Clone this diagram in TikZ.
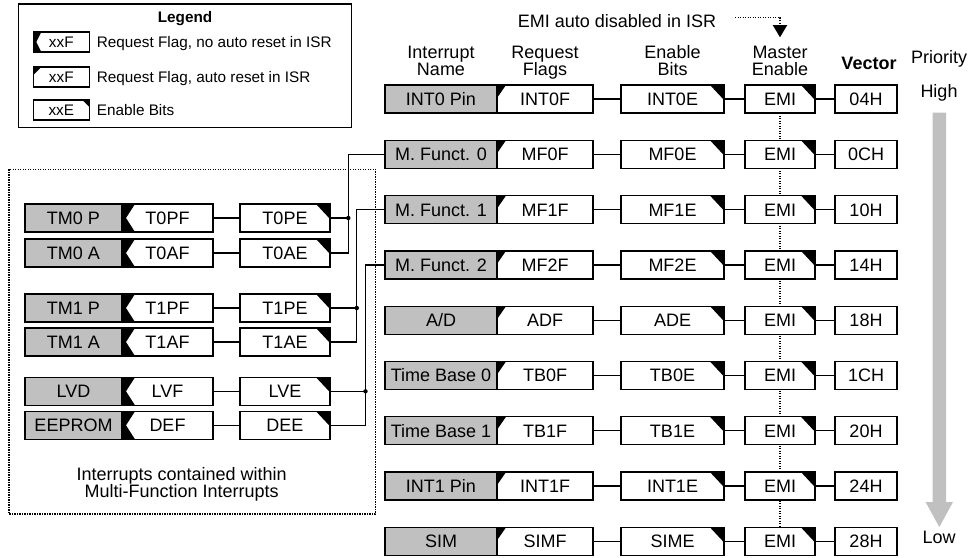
\documentclass[tikz,border=0pt]{standalone}
\usepackage{fontspec}
\setmainfont{Liberation Sans}
\usetikzlibrary{backgrounds}
\definecolor{boxgray}{RGB}{192,192,192}
\begin{document}
\begin{tikzpicture}[x=1pt,y=-1pt,
  mf/.style={font=\fontsize{18}{17}\selectfont},
  lgf/.style={font=\fontsize{15.3}{17}\selectfont},
  bx/.style={draw, line width=1.3pt, rectangle, inner sep=0pt, outer sep=0pt, minimum height=28pt,
             text height=12.9pt, text depth=0pt, mf},
  namebox/.style={bx, fill=boxgray},
  whitebox/.style={bx, fill=white},
  lbx/.style={draw, line width=1.2pt, rectangle, inner sep=0pt, outer sep=0pt, minimum height=20pt, minimum width=56pt,
             text height=11pt, text depth=0pt, fill=white, lgf},
  ltxt/.style={inner sep=0pt, text height=11pt, text depth=0pt, lgf, anchor=west},
  hdr/.style={inner sep=0pt, text height=12.9pt, text depth=0pt, mf},
  hdrtwo/.style={inner sep=0pt, align=center, anchor=north, mf},
  conn/.style={line width=1.3pt},
  dotln/.style={line width=1.1pt, dash pattern=on 1.4pt off 1.1pt}]
\useasboundingbox (0,0) rectangle (972,557);

% ---------- Legend ----------
\draw[line width=1.2pt] (18.3,4) rectangle (351.7,127.7);
\node[lgf, font=\fontsize{15.3}{17}\selectfont\bfseries, inner sep=0pt, text height=11pt, text depth=0pt] (lgtitle) at (185,17.2) {Legend};
\node[lbx] (lg1) at (61.3,42) {xxF};
\fill (lg1.north west) -- ++(8,0) -- ++(-5,10) -- ++(5,10) -- ++(-8,0) -- cycle;
\node[ltxt] (lg1t) at (96.7,42.3) {Request Flag, no auto reset in ISR};
\node[lbx] (lg2) at (61.3,77) {xxF};
\fill (lg2.north west) -- ++(8,0) -- ++(-8,8) -- cycle;
\node[ltxt] (lg2t) at (96.7,77.3) {Request Flag, auto reset in ISR};
\node[lbx] (lg3) at (61.3,110) {xxE};
\fill (lg3.north east) -- ++(-7,0) -- ++(7,7) -- cycle;
\node[ltxt] (lg3t) at (96.7,110.3) {Enable Bits};

% ---------- Headers ----------
\node[hdr] (emitxt) at (617,21.2) {EMI auto disabled in ISR};
\node[hdrtwo] (h1) at (441,45.5) {Interrupt\\Name};
\node[hdrtwo] (h2) at (545,45.5) {Request\\Flags};
\node[hdrtwo] (h3) at (672.5,45.5) {Enable\\Bits};
\node[hdrtwo] (h4) at (780,45.5) {Master\\Enable};
\node[hdr, font=\fontsize{18}{17}\selectfont\bfseries] (h5) at (869,63.2) {Vector};
\node[hdr] (pri) at (939,57.5) {Priority};
\node[hdr] (high) at (939,91) {High};
\node[hdr] (low) at (939,537.3) {Low};

% dotted arrow from the note to the EMI column
\coordinate (arrs) at (735,17.5);
\coordinate (arrtip) at (780,37.3);
\draw[dotln] (arrs) -| (arrtip);
\fill (arrtip) -- ++(-7.3,-12.3) -- ++(14.6,0) -- cycle;

% priority arrow
\fill[boxgray] (932.5,112.7) -- (946.1,112.7) -- (946.1,502) -- (953,502)
  -- (939.3,527) -- (925.6,502) -- (932.5,502) -- cycle;

% ---------- Main table ----------
\foreach \nm/\fl/\en/\ve [count=\i from 0] in {
  INT0 Pin/INT0F/INT0E/04H,
  M. Funct. 0/MF0F/MF0E/0CH,
  M. Funct. 1/MF1F/MF1E/10H,
  M. Funct. 2/MF2F/MF2E/14H,
  {A/D}/ADF/ADE/18H,
  Time Base 0/TB0F/TB0E/1CH,
  Time Base 1/TB1F/TB1E/20H,
  INT1 Pin/INT1F/INT1E/24H,
  SIM/SIMF/SIME/28H}{
  \pgfmathsetmacro\yy{99+55.3*\i}
  \node[namebox, minimum width=112pt] (n\i) at (441,\yy) {\nm};
  \node[whitebox, minimum width=96pt] (f\i) at (545,\yy) {\fl};
  \node[whitebox, minimum width=103pt] (e\i) at (672.5,\yy) {\en};
  \node[whitebox, minimum width=70pt] (m\i) at (780,\yy) {EMI};
  \node[whitebox, minimum width=62pt] (v\i) at (866,\yy) {\ve};
  \fill (f\i.north west) -- ++(9,0) -- ++(-9,13) -- cycle;
  \fill (e\i.north east) -- ++(-14,0) -- ++(14,15) -- cycle;
  \fill (m\i.north east) -- ++(-14,0) -- ++(14,15) -- cycle;
  \draw[conn] (f\i) -- (e\i);
  \draw[conn] (e\i) -- (m\i);
  \draw[conn] (m\i) -- (v\i);
}
\begin{scope}[on background layer]
  \draw[dotln] (m0.south) -- (m8.north);
\end{scope}

% ---------- Multi-function group ----------
\draw[dotln] (9,169.3) rectangle (375.5,514);
\foreach \nm/\fl/\en/\yy [count=\i from 0] in {
  TM0 P/T0PF/T0PE/218,
  TM0 A/T0AF/T0AE/253,
  TM1 P/T1PF/T1PE/308,
  TM1 A/T1AF/T1AE/342,
  LVD/LVF/LVE/391.3,
  EEPROM/DEF/DEE/425.3}{
  \node[namebox, minimum width=97pt] (ln\i) at (73.5,\yy) {\nm};
  \node[whitebox, minimum width=91pt] (lf\i) at (167.5,\yy) {\fl};
  \node[whitebox, minimum width=90pt] (le\i) at (285,\yy) {\en};
  \fill (lf\i.north west) -- ++(13,0) -- ++(-9,14) -- ++(9,14) -- ++(-13,0) -- cycle;
  \fill (le\i.north east) -- ++(-14,0) -- ++(14,15) -- cycle;
  \draw[conn] (lf\i) -- (le\i);
}
\node[hdrtwo] (grouptxt) at (181.7,467.5) {Interrupts contained within\\Multi-Function Interrupts};

% buses into the multi-function rows
\coordinate (b0) at (348.3,0);
\coordinate (b1) at (356.8,0);
\coordinate (b2) at (365.5,0);
\draw[conn] (le0.east) -- (b0 |- le0.east);
\draw[conn] (le1.east) -| (b0 |- n1.west) -- (n1.west);
\fill (b0 |- le0.east) circle (2.2pt);
\draw[conn] (le2.east) -- (b1 |- le2.east);
\draw[conn] (le3.east) -| (b1 |- n2.west) -- (n2.west);
\fill (b1 |- le2.east) circle (2.2pt);
\draw[conn] (le4.east) -- (b2 |- le4.east);
\draw[conn] (le5.east) -| (b2 |- n3.west) -- (n3.west);
\fill (b2 |- le4.east) circle (2.2pt);
\end{tikzpicture}
\end{document}
